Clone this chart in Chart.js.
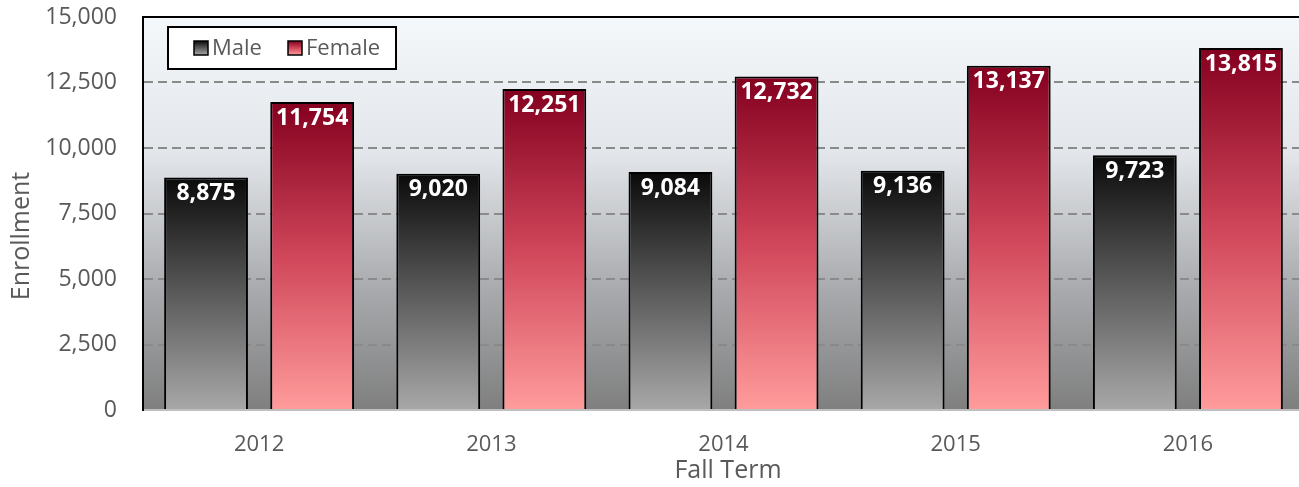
<!DOCTYPE html>
<html>
<head>
<meta charset="utf-8">
<style>
  html, body { margin: 0; padding: 0; background: #ffffff; overflow: hidden; }
  #wrap { width: 1304px; height: 487px; position: relative; }
</style>
<script src="https://cdn.jsdelivr.net/npm/chart.js@4/dist/chart.umd.min.js"></script>
</head>
<body>
<div id="wrap"><canvas id="chart"></canvas></div>
<script>
// Fall enrollment by sex
const terms = ['2012', '2013', '2014', '2015', '2016'];
const maleCounts = [8875, 9020, 9084, 9136, 9723];
const femaleCounts = [11754, 12251, 12732, 13137, 13815];
const yTicks = [0, 2500, 5000, 7500, 10000, 12500, 15000];
const seriesNames = ['Male', 'Female'];

const FONT = '"Open Sans", "DejaVu Sans", sans-serif';
const TEXT_GREY = '#595959';

const maleStops = [[0, '#0a0a0a'], [0.5, '#5a5a5a'], [1, '#a8a8a8']];
const femaleStops = [[0, '#84001f'], [0.5, '#d0465a'], [1, '#ff9c9c']];

function makeGradient(c, y0, y1, stops) {
  const g = c.createLinearGradient(0, y0, 0, y1);
  stops.forEach(([o, col]) => g.addColorStop(o, col));
  return g;
}

// each bar gets its own vertical gradient, from its top down to the baseline
function barFill(stops) {
  return (ctx) => {
    const chart = ctx.chart;
    if (!chart.chartArea || ctx.type !== 'data') return stops[1][1];
    const ys = chart.scales.y;
    const top = ys.getPixelForValue(ctx.raw);
    const base = ys.getPixelForValue(0);
    return makeGradient(chart.ctx, top, base, stops);
  };
}

const plotBackground = {
  id: 'plotBackground',
  beforeDraw(chart) {
    const { ctx, chartArea: a } = chart;
    ctx.save();
    const g = ctx.createLinearGradient(0, a.top, 0, a.bottom);
    g.addColorStop(0, '#f5f8fb');
    g.addColorStop(0.35, '#e2e5e9');
    g.addColorStop(0.7, '#a7a9ac');
    g.addColorStop(1, '#7f7f7f');
    ctx.fillStyle = g;
    ctx.fillRect(a.left, a.top, a.right - a.left, a.bottom - a.top);
    ctx.restore();
  },
  afterDraw(chart) {
    const { ctx, chartArea: a } = chart;
    ctx.save();
    ctx.strokeStyle = '#000000';
    ctx.lineWidth = 2;
    ctx.beginPath();
    ctx.moveTo(a.left - 1, a.top);
    ctx.lineTo(a.right, a.top);
    ctx.stroke();
    ctx.restore();
  }
};

const valueLabels = {
  id: 'valueLabels',
  afterDatasetsDraw(chart) {
    const { ctx } = chart;
    ctx.save();
    ctx.fillStyle = '#ffffff';
    ctx.font = 'bold 23px ' + FONT;
    ctx.textAlign = 'center';
    ctx.textBaseline = 'middle';
    chart.data.datasets.forEach((ds, i) => {
      chart.getDatasetMeta(i).data.forEach((bar, j) => {
        ctx.fillText(ds.data[j].toLocaleString('en-US'), bar.x, bar.y + 16);
      });
    });
    ctx.restore();
  }
};

const boxLegend = {
  id: 'boxLegend',
  afterDraw(chart) {
    const { ctx } = chart;
    const x0 = 168, y0 = 27, w = 228, h = 42;
    ctx.save();
    ctx.fillStyle = '#ffffff';
    ctx.fillRect(x0, y0, w, h);
    ctx.strokeStyle = '#000000';
    ctx.lineWidth = 2;
    ctx.strokeRect(x0, y0, w, h);
    ctx.font = '22px ' + FONT;
    ctx.textBaseline = 'middle';
    ctx.textAlign = 'left';
    const cy = y0 + h / 2;
    const items = [
      { x: 194, stops: maleStops, label: chart.data.datasets[0].label },
      { x: 288, stops: femaleStops, label: chart.data.datasets[1].label }
    ];
    items.forEach((it) => {
      const s = 14;
      ctx.fillStyle = makeGradient(ctx, cy - s / 2, cy + s / 2, it.stops);
      ctx.fillRect(it.x, cy - s / 2, s, s);
      ctx.strokeStyle = '#000000';
      ctx.lineWidth = 1.5;
      ctx.strokeRect(it.x, cy - s / 2, s, s);
      ctx.fillStyle = TEXT_GREY;
      ctx.fillText(it.label, it.x + s + 4, cy + 1);
    });
    ctx.restore();
  }
};

const axisTitles = {
  id: 'axisTitles',
  afterDraw(chart) {
    const { ctx } = chart;
    ctx.save();
    ctx.fillStyle = TEXT_GREY;
    ctx.font = '25px ' + FONT;
    ctx.textAlign = 'center';
    ctx.textBaseline = 'middle';
    ctx.fillText('Fall Term', 728, 471);
    ctx.translate(22, 236);
    ctx.rotate(-Math.PI / 2);
    ctx.fillText('Enrollment', 0, 0);
    ctx.restore();
  }
};

new Chart(document.getElementById('chart'), {
  type: 'bar',
  data: {
    labels: terms,
    datasets: [
      {
        label: seriesNames[0],
        data: maleCounts,
        backgroundColor: barFill(maleStops),
        borderColor: '#000000',
        borderWidth: 2
      },
      {
        label: seriesNames[1],
        data: femaleCounts,
        backgroundColor: barFill(femaleStops),
        borderColor: '#000000',
        borderWidth: 2
      }
    ]
  },
  options: {
    responsive: true,
    maintainAspectRatio: false,
    animation: false,
    devicePixelRatio: 1,
    layout: { padding: { top: 17, left: 0, right: 0, bottom: 0 } },
    datasets: {
      bar: { categoryPercentage: 0.914, barPercentage: 0.79 }
    },
    plugins: {
      legend: { display: false },
      tooltip: { enabled: false },
      title: { display: false }
    },
    scales: {
      x: {
        grid: { display: false, drawTicks: false },
        border: { display: true, color: '#bfbfbf', width: 2 },
        ticks: {
          color: TEXT_GREY,
          font: { family: FONT, size: 22 },
          padding: 22
        },
        afterFit(scale) {
          scale.height = 77;
          scale.paddingLeft = 0;
          scale.paddingRight = 0;
        }
      },
      y: {
        min: 0,
        max: 15000,
        afterBuildTicks(scale) { scale.ticks = yTicks.map((v) => ({ value: v })); },
        grid: {
          drawTicks: false,
          lineWidth: 2,
          color: (c) => (c.tick && (c.tick.value === 0 || c.tick.value === 15000)) ? 'rgba(0,0,0,0)' : '#8a8a8a'
        },
        border: { display: true, color: '#000000', width: 2, dash: [9, 5] },
        ticks: {
          color: TEXT_GREY,
          font: { family: FONT, size: 23 },
          padding: 26,
          callback: (v) => Number(v).toLocaleString('en-US')
        },
        afterFit(scale) {
          scale.width = 143;
          scale.paddingTop = 0;
          scale.paddingBottom = 0;
        }
      }
    }
  },
  plugins: [plotBackground, valueLabels, boxLegend, axisTitles]
});
</script>
</body>
</html>
